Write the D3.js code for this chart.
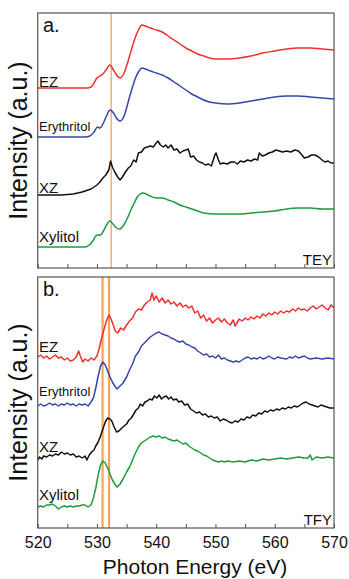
<!DOCTYPE html>
<html><head><meta charset="utf-8">
<script src="https://cdn.jsdelivr.net/npm/d3@7"></script>
<style>html,body{margin:0;padding:0;background:#fff;}svg{display:block;}text{font-family:"Liberation Sans",Arial,sans-serif;}</style>
</head><body>
<script>
// ---- data: [photon energy (eV), intensity (a.u., offset for stacking)] ----
const xTicks = [520, 530, 540, 550, 560, 570];
const seriesNames = ["EZ", "Erythritol", "XZ", "Xylitol"];
const seriesColors = ["#f0302e", "#3548a8", "#111111", "#1f9a3c"];
const panelLabels = ["a.", "b."];
const modeLabels = ["TEY", "TFY"];
const markersTEY = [532.4];
const markersTFY = [530.95, 532.05];

const tey_EZ = [[520,180],[525,180],[528.3,180],[529,181],[529.5,185],[530,190],[530.5,192],[531,194],[531.5,198],[532.2,203],[532.7,199],[533.3,193],[533.9,190],[534.5,194],[535,202],[535.5,212],[536,222],[536.5,231],[537,238],[537.6,243],[538.2,242],[539,240],[540,238],[541,236],[542,232],[543,228],[544,224],[545,220],[546,217],[547,214],[548,212],[549,210],[550,209],[552,209],[554,210],[556,212],[558,215],[560,217],[562,219],[564,220],[566,220],[568,219],[570,218]];
const tey_Ery = [[520,131],[528,131],[528.8,132],[529.5,136],[530.1,141],[530.5,140],[531,144],[531.6,152],[532.2,158],[532.8,155],[533.4,149],[533.9,147],[534.5,151],[535,160],[535.5,171],[536,181],[536.5,190],[537,196],[537.6,200],[538.2,199],[539,197],[540,195],[541,193],[542,190],[543,186],[544,182],[545,178],[546,174],[547,171],[548,168],[549,166],[550,165],[552,164],[554,165],[556,167],[558,169],[560,171],[562,172],[564,172],[566,171],[568,170],[570,169]];
const tey_XZ = [[520,73],[524,73],[526,74],[527.5,76],[528.5,78],[529,79],[529.5,81],[530,83],[530.5,86],[531,90],[531.5,93],[532,98],[532.3,107],[532.6,101],[533,96],[533.5,91],[533.9,88],[534.3,91],[534.8,96],[535.3,100],[535.7,102],[536.2,108],[536.6,106],[537,115],[537.5,116],[538,120],[538.5,121],[539,122],[539.5,121],[540,125],[540.3,127],[540.7,123],[541.2,121],[541.6,123],[542,120],[542.5,123],[543,118],[543.5,119],[544,115],[544.5,117],[545,118],[545.4,119],[545.8,111],[546.3,112],[546.8,108],[547.3,106],[547.8,105],[548.3,103],[548.8,104],[549.3,102],[549.9,113],[550.1,115],[550.5,108],[550.8,104],[551.3,105],[552,104],[552.6,106],[553.2,106],[553.7,104],[554.2,107],[554.8,106],[555.4,108],[556,107],[556.6,109],[557.1,108],[557.4,115],[557.9,112],[558.4,113],[559,115],[559.6,116],[560.2,118],[560.8,117],[561.3,116],[562,117],[562.7,116],[563.4,118],[564,117],[564.6,113],[565,110],[565.6,111],[566.2,113],[566.8,113],[567.4,111],[568,108],[568.5,106],[569,107],[569.5,105],[570,105]];
const tey_Xyl = [[520,21],[528,21],[528.7,23],[529.3,27],[529.8,32],[530.2,33],[530.6,33],[531.1,37],[531.6,43],[532.2,47],[532.7,44],[533.3,40],[533.8,39],[534.3,41],[534.8,46],[535.3,52],[535.8,59],[536.3,65],[536.8,71],[537.3,74],[537.8,75],[538.3,74],[539,72],[540,70],[541,70],[542,68],[543,66],[544,63],[545,61],[546,59],[547,57],[548,55],[550,54],[552,54],[554,54],[556,55],[558,56],[560,57],[562,59],[564,60],[566,60],[568,59],[570,59]];

const tfy_EZ = [[520,171],[520.5,173],[521,170],[521.5,172],[522,169],[522.5,171],[523,173],[523.5,170],[524,171],[524.5,168],[525,170],[525.5,167],[526,168],[526.5,171],[526.9,177],[527.2,172],[527.6,166],[528,169],[528.5,167],[529,170],[529.5,168],[530,172],[530.4,180],[530.8,190],[531.2,199],[531.6,207],[532,213],[532.3,210],[532.7,204],[533.1,197],[533.5,195],[534,200],[534.5,198],[535,203],[535.5,207],[536,210],[536.5,216],[537,219],[537.5,218],[538,223],[538.5,226],[539,228],[539.3,235],[539.6,228],[540,232],[540.5,226],[541,230],[541.5,225],[542,228],[542.5,224],[543,226],[543.5,222],[544,225],[544.5,221],[545,223],[545.5,220],[546,222],[546.5,215],[547,217],[547.5,210],[548,213],[548.5,207],[549,210],[549.5,205],[550,208],[550.5,210],[551,206],[551.5,209],[552,205],[552.5,203],[553,208],[553.3,202],[553.7,206],[554,209],[554.5,207],[555,210],[555.5,208],[556,211],[556.5,209],[557,212],[557.5,210],[558,214],[558.5,212],[559,215],[559.5,213],[560,216],[560.5,214],[561,217],[561.5,215],[562,217],[562.5,216],[563,219],[563.5,217],[564,220],[564.5,218],[565,219],[565.5,217],[566,220],[566.5,222],[567,219],[567.5,221],[568,223],[568.5,220],[569,218],[569.5,223],[570,220]];
const tfy_Ery = [[520,122],[520.5,124],[521,122],[521.5,123],[522,125],[522.5,123],[523,124],[523.5,122],[524,124],[524.5,123],[525,125],[525.5,123],[526,124],[526.5,122],[527,124],[527.5,123],[528,124],[528.5,122],[529,126],[529.4,130],[529.8,140],[530.2,152],[530.6,162],[531,166],[531.4,163],[531.8,157],[532.2,151],[532.6,146],[533,142],[533.4,139],[533.9,142],[534.4,145],[535,151],[535.5,158],[536,164],[536.5,172],[537,176],[537.5,182],[538,185],[538.5,188],[539,191],[539.5,193],[540,195],[540.5,196],[541,194],[541.5,193],[542,192],[542.5,190],[543,189],[543.5,187],[544,186],[544.5,187],[545,184],[545.5,183],[546,181],[546.5,180],[547,177],[547.5,175],[548,173],[548.5,174],[549,171],[549.5,172],[550,170],[550.5,173],[551,169],[551.5,170],[552,168],[552.5,167],[553,166],[553.5,167],[554,166],[554.5,168],[555,170],[555.5,171],[556,169],[556.5,170],[557,169],[557.5,171],[558,169],[558.5,170],[559,172],[559.5,170],[560,169],[560.5,171],[561,170],[562,169],[562.5,171],[563,170],[563.5,172],[564,170],[564.5,171],[565,172],[565.5,170],[566,169],[567,170],[568,169],[569,170],[570,169]];
const tfy_XZ = [[520,68],[520.3,71],[520.7,69],[521,72],[521.5,71],[522,73],[522.5,72],[523,74],[523.5,73],[524,76],[524.5,74],[525,75],[525.5,73],[526,74],[526.5,71],[527,72],[527.5,70],[528,72],[528.3,68],[528.7,73],[529.1,76],[529.5,78],[529.8,82],[530.2,86],[530.6,92],[531,99],[531.4,106],[531.8,110],[532.2,109],[532.5,107],[532.9,101],[533.3,96],[533.7,97],[534.2,100],[534.6,102],[535,104],[535.4,108],[535.8,110],[536.2,114],[536.6,118],[537,120],[537.3,124],[537.7,122],[538.1,126],[538.5,127],[538.9,129],[539.3,128],[539.7,132],[540.1,130],[540.5,133],[540.9,129],[541.3,131],[541.7,132],[542.1,129],[542.5,131],[542.9,128],[543.4,129],[543.8,126],[544.3,127],[544.8,123],[545.3,124],[545.8,119],[546.3,117],[546.8,115],[547.3,116],[547.8,113],[548.3,114],[548.8,111],[549.3,112],[549.8,110],[550.3,111],[550.8,107],[551.3,109],[551.8,108],[552.3,106],[552.8,105],[553.3,107],[553.8,106],[554.3,109],[554.8,108],[555.3,111],[555.8,110],[556.3,113],[556.8,112],[557.3,115],[557.8,114],[558.3,117],[558.8,116],[559.3,118],[559.8,117],[560.3,119],[560.8,118],[561.3,120],[561.8,119],[562.3,121],[562.8,120],[563.3,122],[563.8,121],[564.3,123],[564.8,125],[565.3,126],[565.8,124],[566.3,123],[566.8,122],[567.3,121],[567.8,123],[568.3,122],[568.8,121],[569.3,120],[570,120]];
const tfy_Xyl = [[520,21],[520.5,22],[521,21],[521.5,23],[522,23],[522.5,24],[523,22],[523.5,19],[524,21],[524.5,22],[525,21],[525.5,22],[526,21],[526.5,22],[527,22],[527.5,23],[528,23],[528.5,21],[529,23],[529.4,30],[529.8,40],[530.2,53],[530.6,63],[531,67],[531.4,65],[531.8,60],[532.2,54],[532.6,48],[533,44],[533.4,41],[533.9,44],[534.4,49],[535,56],[535.5,61],[536,68],[536.5,75],[537,81],[537.5,85],[538,87],[538.5,89],[539,91],[539.5,92],[540,91],[540.5,92],[541,90],[541.5,91],[542,89],[542.5,88],[543,87],[543.5,88],[544,86],[544.5,84],[545,85],[545.5,82],[546,80],[546.5,78],[547,77],[547.5,75],[548,73],[548.5,72],[549,70],[549.5,68],[550,67],[550.5,66],[551,67],[551.5,66],[552,67],[553,66],[554,67],[555,66],[556,68],[557,67],[558,69],[559,68],[560,69],[561,70],[562,69],[563,70],[564,71],[565,70],[565.6,70],[566,73],[566.3,68],[567,71],[568,70],[569,71],[570,70]];

const teySeries = [tey_EZ, tey_Ery, tey_XZ, tey_Xyl];
const tfySeries = [tfy_EZ, tfy_Ery, tfy_XZ, tfy_Xyl];

// ---- drawing ----
const W = 349, H = 579;
const svg = d3.select("body").append("svg").attr("width", W).attr("height", H);
const x = d3.scaleLinear().domain([520, 570]).range([37.7, 334]);

const panels = [
  {top: 13, bottom: 268, yMax: 255, series: teySeries, markers: markersTEY, markW: 1.3,
   labelY: [87, 131, 193, 242], labelSize: [15, 13, 15, 15], smooth: [true, true, false, true]},
  {top: 277, bottom: 528, yMax: 251, series: tfySeries, markers: markersTFY, markW: 2.2,
   labelY: [352, 396, 452, 500], labelSize: [15, 13, 15, 15], smooth: [false, false, false, false]}
];

panels.forEach((p, pi) => {
  const y = d3.scaleLinear().domain([0, p.yMax]).range([p.bottom, p.top]);
  const g = svg.append("g");
  p.markers.forEach(m => {
    g.append("line").attr("x1", x(m)).attr("x2", x(m)).attr("y1", p.top).attr("y2", p.bottom)
      .attr("stroke", "#f5a55c").attr("stroke-width", p.markW);
  });
  p.series.forEach((s, si) => {
    const line = d3.line().x(d => x(d[0])).y(d => y(d[1]))
      .curve(p.smooth[si] ? d3.curveMonotoneX : d3.curveLinear);
    g.append("path").datum(s).attr("d", line).attr("fill", "none")
      .attr("stroke", seriesColors[si]).attr("stroke-width", 1.5).attr("stroke-linejoin", "round");
    g.append("text").attr("x", 39).attr("y", p.labelY[si]).attr("font-size", p.labelSize[si])
      .attr("fill", "#111").text(seriesNames[si]);
  });
  g.append("rect").attr("x", x(520)).attr("y", p.top).attr("width", x(570) - x(520))
    .attr("height", p.bottom - p.top).attr("fill", "none").attr("stroke", "#555").attr("stroke-width", 1.2);
  const ax = d3.axisBottom(x).tickValues(d3.range(520, 571, 5)).tickSize(-4)
    .tickFormat(pi === 1 ? (d => (xTicks.includes(d) ? d : "")) : "");
  const axg = g.append("g").attr("transform", `translate(0,${p.bottom})`).call(ax);
  axg.select(".domain").remove();
  axg.selectAll(".tick line").attr("stroke", "#555");
  axg.selectAll(".tick text").attr("font-size", 16).attr("fill", "#111")
    .attr("font-family", "\"Liberation Sans\",Arial,sans-serif").attr("dy", "1.05em");
  g.append("text").attr("x", 43).attr("y", p.top + 19).attr("font-size", 20).attr("fill", "#111").text(panelLabels[pi]);
  g.append("text").attr("x", 332).attr("y", p.bottom - 3).attr("text-anchor", "end").attr("font-size", 15)
    .attr("fill", "#111").text(modeLabels[pi]);
  g.append("text").attr("transform", `translate(27,${(p.top + p.bottom) / 2}) rotate(-90)`)
    .attr("text-anchor", "middle").attr("font-size", 25).attr("fill", "#111").text("Intensity (a.u.)");
});

svg.append("text").attr("x", 195).attr("y", 574).attr("text-anchor", "middle")
  .attr("font-size", 21).attr("fill", "#111").text("Photon Energy (eV)");
</script>
</body></html>
